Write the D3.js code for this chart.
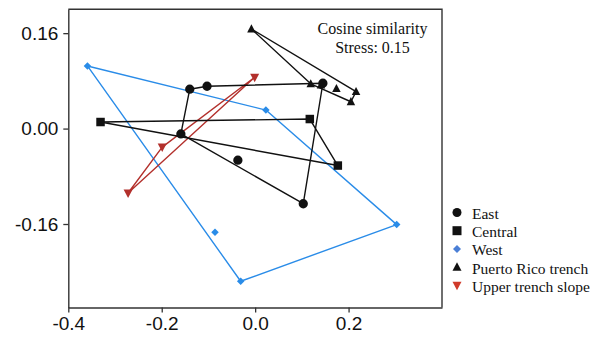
<!DOCTYPE html>
<html>
<head>
<meta charset="utf-8">
<script src="https://cdn.jsdelivr.net/npm/d3@7/dist/d3.min.js"></script>
<style>
  html, body { margin: 0; padding: 0; background: #fff; }
  svg { display: block; }
  .serif { font-family: "Liberation Serif", "Times New Roman", Times, "DejaVu Serif", serif; }
  .sans { font-family: "Liberation Sans", Arial, Helvetica, sans-serif; }
</style>
</head>
<body>
<svg id="chart" width="601" height="340"></svg>
<script>
// ---- data (NMDS coordinates) ----
const eastX = [-0.140, -0.103, -0.159, -0.037, 0.103, 0.145];
const eastY = [0.066, 0.071, -0.009, -0.053, -0.126, 0.076];

const centralX = [-0.331, 0.117, 0.177];
const centralY = [0.011, 0.016, -0.062];

const westX = [-0.359, 0.023, 0.303, -0.031, -0.086];
const westY = [0.105, 0.031, -0.161, -0.256, -0.174];

const prtX = [-0.008, 0.119, 0.141, 0.174, 0.216, 0.205];
const prtY = [0.167, 0.075, 0.073, 0.067, 0.062, 0.045];

const utsX = [-0.001, -0.199, -0.272];
const utsY = [0.086, -0.031, -0.108];

const xTicks = [-0.4, -0.2, 0.0, 0.2];
const yTicks = [-0.16, 0.00, 0.16];
const legendLabels = ["East", "Central", "West", "Puerto Rico trench", "Upper trench slope"];
const noteLines = ["Cosine similarity", "Stress: 0.15"];

// ---- layout ----
const svg = d3.select("#chart");
const L = 68.3, R = 442, T = 9.3, B = 307.5;
const x = d3.scaleLinear().domain([-0.4, 0.4]).range([L, R]);
const y = d3.scaleLinear().domain([-0.30, 0.20]).range([B, T]);

const BLACK = "#111";
const BLUE = "#2a8ce8";
const RED = "#b3302c";

const groups = [
  {xs: westX, ys: westY, color: BLUE, line: BLUE, shape: "diamond"},
  {xs: utsX, ys: utsY, color: RED, line: RED, shape: "tridown"},
  {xs: centralX, ys: centralY, color: BLACK, line: BLACK, shape: "square"},
  {xs: prtX, ys: prtY, color: BLACK, line: BLACK, shape: "triup"},
  {xs: eastX, ys: eastY, color: BLACK, line: BLACK, shape: "circle"}
];

function symPath(shape, size) {
  const s = size;
  switch (shape) {
    case "circle": return d3.symbol(d3.symbolCircle, Math.PI * s * s / 4)();
    case "square": return `M${-s/2},${-s/2}H${s/2}V${s/2}H${-s/2}Z`;
    case "diamond": return `M0,${-s/2}L${s/2},0L0,${s/2}L${-s/2},0Z`;
    case "triup": return `M0,${-s*0.55}L${s*0.5},${s*0.4}L${-s*0.5},${s*0.4}Z`;
    case "tridown": return `M0,${s*0.55}L${s*0.5},${-s*0.4}L${-s*0.5},${-s*0.4}Z`;
  }
}
const sizes = {circle: 9.3, square: 8.5, diamond: 7.5, triup: 8.5, tridown: 9};

// hulls
const hullG = svg.append("g");
groups.forEach(g => {
  const pts = g.xs.map((v, i) => [x(v), y(g.ys[i])]);
  const hull = d3.polygonHull(pts);
  hullG.append("path")
    .attr("d", "M" + hull.map(p => p.join(",")).join("L") + "Z")
    .attr("fill", "none")
    .attr("stroke", g.line)
    .attr("stroke-width", 1.4)
    .attr("stroke-linejoin", "round");
});

// points
const ptG = svg.append("g");
groups.forEach(g => {
  g.xs.forEach((v, i) => {
    ptG.append("path")
      .attr("d", symPath(g.shape, sizes[g.shape]))
      .attr("transform", `translate(${x(v)},${y(g.ys[i])})`)
      .attr("fill", g.color);
  });
});

// axes
const fmtY = d => (d < 0 ? "-" : "") + Math.abs(d).toFixed(2);
const fmtX = d => (d < 0 ? "-" : "") + Math.abs(d).toFixed(1);

const yAxis = svg.append("g").attr("transform", `translate(${L},0)`)
  .call(d3.axisLeft(y).tickValues(yTicks).tickFormat(fmtY).tickSize(5).tickSizeOuter(0).tickPadding(5));
const xAxis = svg.append("g").attr("transform", `translate(0,${B})`)
  .call(d3.axisBottom(x).tickValues(xTicks).tickFormat(fmtX).tickSize(5).tickSizeOuter(0).tickPadding(4));

[yAxis, xAxis].forEach(a => {
  a.attr("font-family", null).attr("font-size", null);
  a.selectAll("path.domain").attr("stroke", "#333").attr("stroke-width", 1.4);
  a.selectAll(".tick line").attr("stroke", "#333").attr("stroke-width", 1.3);
  a.selectAll(".tick text")
    .attr("class", "sans")
    .attr("fill", "#111")
    .attr("font-size", 19);
});

// top & right frame
svg.append("path")
  .attr("d", `M${L},${T}H${R}V${B}`)
  .attr("fill", "none")
  .attr("stroke", "#333")
  .attr("stroke-width", 1.4);

// annotation
svg.append("g").selectAll("text").data(noteLines).join("text")
  .attr("class", "serif")
  .attr("x", 372.5)
  .attr("y", (d, i) => 33.5 + i * 19)
  .attr("text-anchor", "middle")
  .attr("font-size", 16)
  .attr("fill", "#111")
  .text(d => d);

// legend
const legendShapes = ["circle", "square", "diamond", "triup", "tridown"];
const legendColors = [BLACK, BLACK, "#4a7fd6", BLACK, "#d03a2a"];
const lg = svg.append("g");
legendLabels.forEach((lab, i) => {
  const by = 219 + i * 18.2;
  lg.append("path")
    .attr("d", symPath(legendShapes[i], legendShapes[i] === "diamond" ? 8 : 9))
    .attr("transform", `translate(457,${by - 6.5})`)
    .attr("fill", legendColors[i]);
  lg.append("text")
    .attr("class", "serif")
    .attr("x", 472)
    .attr("y", by)
    .attr("font-size", 15.5)
    .attr("fill", "#111")
    .text(lab);
});
</script>
</body>
</html>
